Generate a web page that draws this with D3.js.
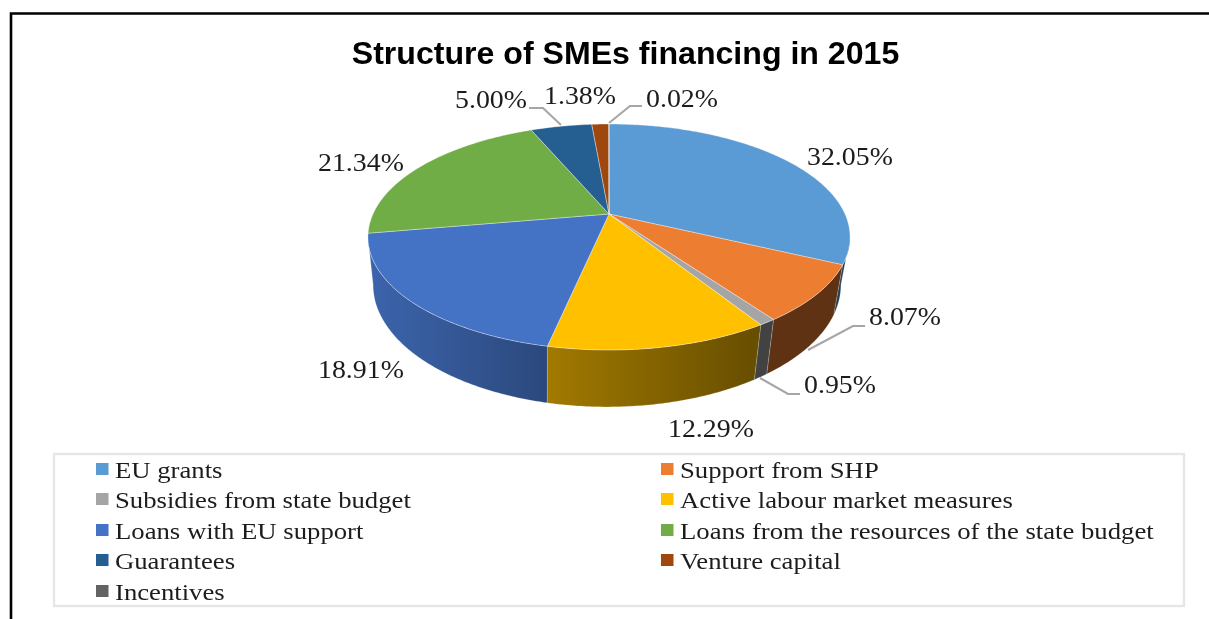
<!DOCTYPE html>
<html>
<head>
<meta charset="utf-8">
<script src="https://cdn.jsdelivr.net/npm/d3@7"></script>
<style>
html,body{margin:0;padding:0;background:#fff;overflow:hidden}
svg{display:block;filter:blur(.55px)}
</style>
</head>
<body>
<svg id="c" width="1209" height="619"></svg>
<script>
const titleText = "Structure of SMEs financing in 2015";
const categories = ["EU grants","Support from SHP","Subsidies from state budget","Active labour market measures","Loans with EU support","Loans from the resources of the state budget","Guarantees","Venture capital","Incentives"];
const values = [32.05,8.07,0.95,12.29,18.91,21.34,5.00,1.38,0.02];
const valueLabels = ["32.05%","8.07%","0.95%","12.29%","18.91%","21.34%","5.00%","1.38%","0.02%"];
const colors = ["#5b9bd5","#ed7d31","#a5a5a5","#ffc000","#4472c4","#70ad47","#255e91","#9e480e","#636363"];

// layout, separate from the data
const labelAnchors = [[807,165],[869,325],[804,393],[668,437],[318,378],[318,171],[455,108],[544,104],[646,107]];
const leaders = {1:[[808,350],[853,326],[865,326]],2:[[760,378],[788,394],[800,394]],6:[[561,125],[543,108],[529,108]],8:[[609,123],[630,106],[642,106]]};
const legendCols = [96,661], legendBase = [478,508,539,569,600], legendOrder = [[0,0],[1,0],[0,1],[1,1],[0,2],[1,2],[0,3],[1,3],[0,4]];
const STRETCH_LABEL = 1.115, STRETCH_LEGEND = 1.113, STRETCH_TITLE = 1.053;

const svg = d3.select("#c");
const defs = svg.append("defs");

// black frame + legend box
svg.append("path").attr("d",d3.line()([[11,619],[11,13.5],[1209,13.5]])).attr("fill","none").attr("stroke","#000").attr("stroke-width",2.6);
svg.append("rect").attr("x",54).attr("y",454).attr("width",1130).attr("height",152).attr("fill","none").attr("stroke","#e6e6e6").attr("stroke-width",2.4);

// title
function stretched(sel,x,y,s,anchor){ sel.attr("transform",`translate(${x},${y}) scale(${s},1)`).attr("text-anchor",anchor||"start"); return sel; }
stretched(svg.append("text").text(titleText).attr("font-family","Liberation Sans").attr("font-weight","bold").attr("font-size",30.5).attr("fill","#000"),625.5,64,STRETCH_TITLE,"middle");

// perspective disc: top plane and bottom plane of the pie
const K = 0.2035;
const topPlane = {cx:609,cy:214,a:236,b:108.3};
const botPlane = {cx:607,cy:260,a:229,b:117};
const rim = (th,p)=>{const u=Math.sin(th),v=Math.cos(th),w=1+K*v;return [p.cx+p.a*u/w,p.cy-p.b*v/w];};
const sample = (a,b,p)=>{const n=Math.max(2,Math.ceil(Math.abs(b-a)/0.01));return d3.range(n+1).map(i=>rim(a+(b-a)*i/n,p));};

const arcs = d3.pie().sort(null).value(d=>d)(values);
const VIS0 = Math.PI-Math.acos(K), VIS1 = Math.PI+Math.acos(K);
const shade = d3.scaleLinear().domain([370,550,760]).range([0.88,0.63,0.40]).clamp(true);
const line = d3.line();

// side walls
const walls = svg.append("g");
arcs.forEach((d,i)=>{
  const a=Math.max(d.startAngle,VIS0), b=Math.min(d.endAngle,VIS1);
  if(b<=a) return;
  const pts = sample(a,b,topPlane).concat(sample(b,a,botPlane));
  const xs = d3.extent(pts,q=>q[0]);
  const id="wall"+i, base=d3.color(colors[i]);
  const g=defs.append("linearGradient").attr("id",id).attr("gradientUnits","userSpaceOnUse").attr("x1",xs[0]).attr("x2",xs[1]).attr("y1",0).attr("y2",0);
  d3.range(9).forEach(k=>{
    const t=k/8, f=shade(xs[0]+(xs[1]-xs[0])*t);
    g.append("stop").attr("offset",t).attr("stop-color",d3.rgb(base.r*f,base.g*f,base.b*f).formatHex());
  });
  walls.append("path").attr("d",line(pts)+"Z").attr("fill",`url(#${id})`).attr("stroke","#fff").attr("stroke-opacity",0.3).attr("stroke-width",0.6);
});

// top faces
const hub=[topPlane.cx,topPlane.cy];
svg.append("g").selectAll("path").data(arcs).join("path")
  .attr("d",d=>line([hub].concat(sample(d.startAngle,d.endAngle,topPlane)))+"Z")
  .attr("fill",(d,i)=>colors[i]).attr("stroke","#fff").attr("stroke-opacity",0.5).attr("stroke-width",0.7).attr("stroke-linejoin","round");

// leader lines
Object.keys(leaders).forEach(k=>{
  svg.append("path").attr("d",line(leaders[k])).attr("fill","none").attr("stroke","#a6a6a6").attr("stroke-width",2.1);
});

// value labels
valueLabels.forEach((t,i)=>{
  stretched(svg.append("text").text(t).attr("font-family","Liberation Serif").attr("font-size",25).attr("fill","#1c1c1c"),labelAnchors[i][0],labelAnchors[i][1],STRETCH_LABEL);
});

// legend
categories.forEach((c,i)=>{
  const [col,row]=legendOrder[i], x=legendCols[col], y=legendBase[row];
  svg.append("rect").attr("x",x).attr("y",y-15).attr("width",12.5).attr("height",12).attr("fill",colors[i]);
  stretched(svg.append("text").text(c).attr("font-family","Liberation Serif").attr("font-size",24).attr("fill","#1c1c1c"),x+19,y,STRETCH_LEGEND);
});
</script>
</body>
</html>
